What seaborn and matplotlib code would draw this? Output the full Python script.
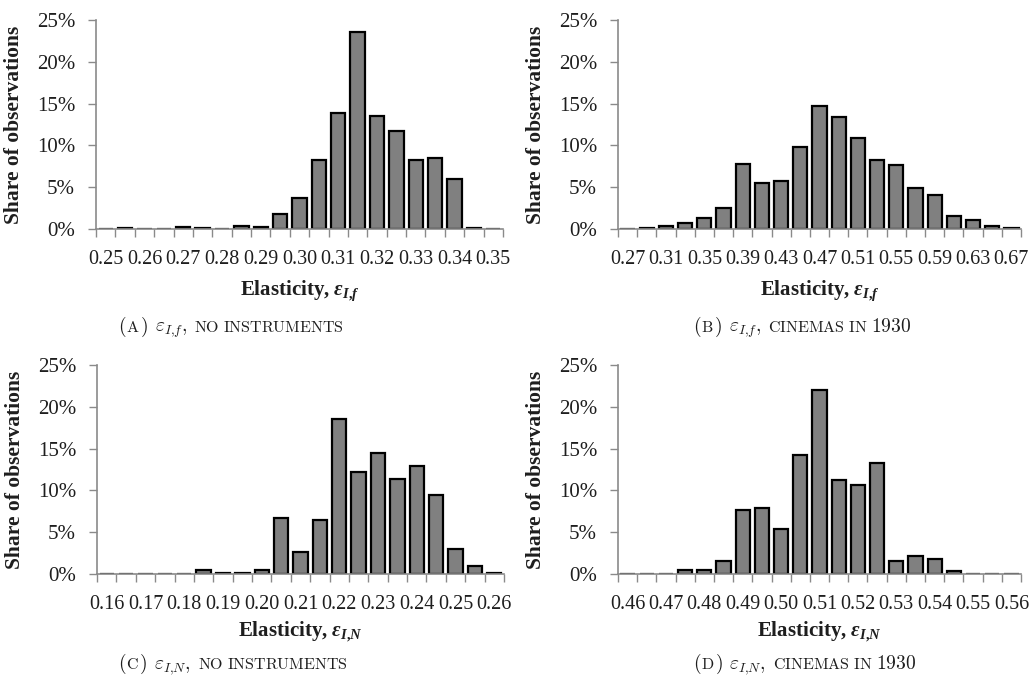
import numpy as np
import pandas as pd
import seaborn as sns
import matplotlib
matplotlib.use("Agg")
from matplotlib import pyplot as plt

# bin categories (21 bins per panel)
a_bins = np.round(np.arange(0.25, 0.3501, 0.005), 3)
b_bins = np.round(np.arange(0.27, 0.6701, 0.02), 2)
c_bins = np.round(np.arange(0.16, 0.2601, 0.005), 3)
d_bins = np.round(np.arange(0.46, 0.5601, 0.005), 3)

# tick labels, one every two bins
a_ticks = ["0.25", "0.26", "0.27", "0.28", "0.29", "0.30", "0.31", "0.32", "0.33", "0.34", "0.35"]
b_ticks = ["0.27", "0.31", "0.35", "0.39", "0.43", "0.47", "0.51", "0.55", "0.59", "0.63", "0.67"]
c_ticks = ["0.16", "0.17", "0.18", "0.19", "0.20", "0.21", "0.22", "0.23", "0.24", "0.25", "0.26"]
d_ticks = ["0.46", "0.47", "0.48", "0.49", "0.50", "0.51", "0.52", "0.53", "0.54", "0.55", "0.56"]

# share of observations (%)
a_share = [0, 0.08, 0, 0, 0.25, 0.08, 0, 0.3, 0.25, 1.85, 3.75, 8.2, 13.9, 23.6,
           13.5, 11.75, 8.3, 8.45, 6.0, 0.1, 0]
b_share = [0, 0.1, 0.3, 0.7, 1.3, 2.55, 7.8, 5.5, 5.75, 9.75, 14.75, 13.45, 10.9,
           8.3, 7.65, 4.85, 4.05, 1.6, 1.1, 0.35, 0.1]
c_share = [0, 0.05, 0, 0, 0, 0.5, 0.15, 0.1, 0.5, 6.7, 2.65, 6.5, 18.6, 12.15,
           14.5, 11.35, 12.95, 9.4, 3.0, 1.0, 0.15]
d_share = [0, 0, 0.05, 0.5, 0.5, 1.5, 7.6, 7.85, 5.35, 14.25, 21.95, 11.2, 10.6,
           13.25, 1.5, 2.15, 1.75, 0.3, 0, 0, 0]

sns.set_style("white")
plt.rcParams["font.family"] = ["Liberation Serif", "DejaVu Serif"]
plt.rcParams["mathtext.fontset"] = "custom"
plt.rcParams["mathtext.it"] = "Liberation Serif:italic:bold"
plt.rcParams["mathtext.rm"] = "Liberation Serif:bold"
plt.rcParams["mathtext.default"] = "it"

fig = plt.figure(figsize=(10.35, 6.96), dpi=100)
W, H = 1035, 696

axis_color = "#8a8a8a"
ink = "#1e1e1e"

panels = [
    # bins, share, ticks, sub, box (left, top, right, bottom px), xlabel gap, caption
    (a_bins, a_share, a_ticks, "I{,}f", (96, 20, 503, 229), 62,
     ("A", r"\varepsilon_{I{,}f}", r"NO\ INSTRUMENTS", None), (118, 327)),
    (b_bins, b_share, b_ticks, "I{,}f", (618, 20, 1021, 229), 62,
     ("B", r"\varepsilon_{I{,}f}", r"CINEMAS\ IN", "1930"), (693, 327)),
    (c_bins, c_share, c_ticks, "I{,}N", (97, 365, 504, 574), 58,
     ("C", r"\varepsilon_{I{,}N}", r"NO\ INSTRUMENTS", None), (118, 664)),
    (d_bins, d_share, d_ticks, "I{,}N", (618, 365, 1021, 574), 58,
     ("D", r"\varepsilon_{I{,}N}", r"CINEMAS\ IN", "1930"), (693, 664)),
]

renderer = fig.canvas.get_renderer()


def caption(x, y, parts):
    # pieces of text chained on one baseline, small caps faked with size
    for txt, size, gap in parts:
        t = fig.text(x / W, 1 - y / H, "$" + txt + "$", fontsize=size, va="baseline",
                     ha="left", color=ink, math_fontfamily="cm")
        bb = t.get_window_extent(renderer)
        x = bb.x1 + gap


for bins, share, ticks, sub, box, xgap, cap, cap_xy in panels:
    l, t, r, b = box
    ax = fig.add_axes([l / W, 1 - b / H, (r - l) / W, (b - t) / H])
    df = pd.DataFrame({"bin": bins, "share": share})
    sns.barplot(data=df, x="bin", y="share", color="#808080", saturation=1,
                edgecolor="black", linewidth=1.6, width=0.74, ax=ax)
    ax.set_xlim(-0.5, len(bins) - 0.5)
    ax.set_ylim(0, 25)
    ax.set_yticks([0, 5, 10, 15, 20, 25])
    ax.set_yticklabels([f"{v}%" for v in [0, 5, 10, 15, 20, 25]])
    ax.set_xticks(np.arange(0, len(bins), 2))
    ax.set_xticklabels(ticks)
    ax.set_xticks(np.arange(-0.5, len(bins), 1), minor=True)
    ax.tick_params(axis="x", which="major", length=0, pad=15, labelsize=14.5,
                   labelcolor=ink)
    ax.tick_params(axis="x", which="minor", length=6, width=1, color=axis_color,
                   direction="out", bottom=True)
    ax.tick_params(axis="y", length=6, width=1, color=axis_color, direction="out",
                   left=True, pad=9, labelsize=15, labelcolor=ink)
    for s in ["top", "right"]:
        ax.spines[s].set_visible(False)
    for s in ["left", "bottom"]:
        ax.spines[s].set_color(axis_color)
        ax.spines[s].set_linewidth(1.2)
    ax.set_ylabel("Share of observations", fontsize=15.5, fontweight="bold", color=ink)
    ax.yaxis.set_label_coords(-72 / (r - l), 0.5)
    ax.set_xlabel("Elasticity, $ε_{" + sub + "}$", fontsize=15, fontweight="bold",
                  color=ink)
    ax.xaxis.label.set_va("center")
    ax.xaxis.set_label_coords(0.5, -xgap / (b - t))

    letter, eps, words, num = cap
    parts = [("(", 14, 0), (r"\mathrm{" + letter + "}", 11.5, 0), (")", 14, 7),
             (eps + ",", 14, 7), (r"\mathrm{" + words + "}", 11.5, 3)]
    if num:
        parts.append((r"\mathrm{" + num + "}", 14, 0))
    caption(cap_xy[0], cap_xy[1] + 5, parts)

fig.savefig("out.png", dpi=100, facecolor="white")
